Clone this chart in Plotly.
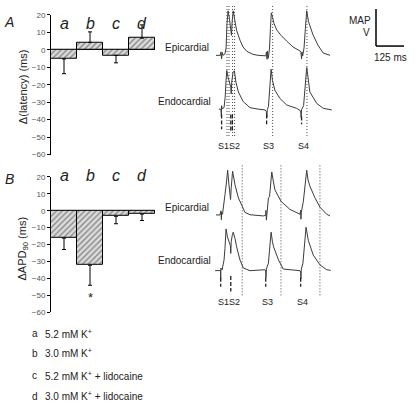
import plotly.graph_objects as go

W, H = 416, 409
FONT = "Liberation Sans, Arial, sans-serif"
MS_PER_PX = 125 / 28.0  # from the 125 ms scale bar

# ---------------- bar data ----------------
conditions = ["a", "b", "c", "d"]
legend_labels = ["5.2 mM K<sup>+</sup>", "3.0 mM K<sup>+</sup>",
                 "5.2 mM K<sup>+</sup> + lidocaine", "3.0 mM K<sup>+</sup> + lidocaine"]
latency_mean = [-5.3, 4.2, -3.2, 6.6]
latency_err = [8.4, 6.0, 4.3, 7.6]
apd_mean = [-16.2, -32.2, -3.3, -2.0]
apd_err = [6.7, 11.8, 4.4, 3.8]
y_ticks = [20, 10, 0, -10, -20, -30, -40, -50, -60]

# ---------------- MAP recordings (time ms, amplitude a.u.) ----------------
A_epi_t = [0, 20, 22, 25, 28, 31, 40, 45, 49, 54, 60, 67, 69, 72, 77, 85, 92, 107, 121, 138, 165, 188,
           223, 225, 228, 230, 233, 236, 239, 243, 247, 253, 259, 271, 290, 316, 344, 375,
           379, 382, 384, 387, 393, 399, 405, 413, 433, 455, 478, 509]
A_epi_v = [0, 0, 3.5, -3.5, 3, 0, 1.5, 7.5, 32.5, 45.5, 37.5, 24.5, 20.5, 34.5, 45.5, 34.5, 25.5, 15.5, 8.5, 4, 1, 0,
           -0.5, 3.5, -4, 4.5, -3, 1.5, 7.5, 27.5, 43.5, 38.5, 32.5, 26, 20.5, 14.5, 8.5, 4.5,
           3, -3.5, 3.5, -0.5, 7.5, 27.5, 45.5, 34.5, 21, 10.5, 2.5, 0]

A_endo_t = [13, 22, 24, 25, 27, 36, 41, 45, 48, 54, 60, 66, 68, 70, 76, 82, 89, 100, 122, 152, 188,
            219, 225, 227, 229, 234, 241, 246, 252, 263, 286, 316, 360,
            378, 380, 382, 391, 397, 405, 411, 419, 450, 479, 517]
A_endo_v = [-0.5, -0.5, -8, 3, 0, 1, 12, 29, 39, 32, 26, 22, 15, 27, 37, 38.7, 27, 17, 7, 1, -0.5,
            -1.3, -3, -9, -1, 2, 24, 40.3, 29, 18.7, 10.3, 3.7, 0.3,
            -2.3, -9, -1, 3, 22, 42, 32, 17, 5.3, 0.3, -1.3]

B_epi_t = [0, 18, 22, 24, 25, 29, 36, 40, 47, 52, 58, 65, 68, 74, 85, 100, 117, 129, 152, 211,
           222, 223, 225, 227, 234, 239, 244, 249, 255, 263, 290, 330, 375,
           378, 379, 381, 390, 397, 405, 411, 420, 442, 464, 494, 509]
B_epi_v = [0, 0, 4.2, -4.8, 2.7, 0.7, 10.7, 20.7, 33.7, 45.7, 30.7, 15.7, 27.7, 44.7, 30.7, 17.4, 9, 2.7, 0.2, -1,
           -0.3, 4.7, -5.3, 1.7, 17.4, 18.7, 30.7, 44, 35.7, 25.7, 14, 5.7, 0.7,
           4.7, -4.3, 2.7, 14, 30.7, 45.7, 35.7, 29, 17.4, 8, 0.7, -1]

B_endo_t = [-4, 13, 20, 21, 22, 27, 36, 40, 45, 51, 58, 64, 66, 68, 73, 77, 85, 92, 107, 122, 152,
            219, 222, 223, 225, 234, 240, 246, 252, 257, 279, 300, 375,
            378, 379, 381, 388, 395, 402, 412, 434, 464, 494, 512]
B_endo_v = [0, 0, 0.2, -8.3, 2.7, 0.7, 11, 22.7, 42.7, 34.7, 28.7, 25.7, 17.7, 29.7, 36.7, 39.4, 32.7, 24.4, 11, 2.7, 0,
            1, -0.3, -7.3, 1.7, 7.7, 22.7, 39.4, 29.7, 24.4, 11, 1.7, 0,
            -1.3, -8.3, 1.7, 7.7, 22.7, 44.4, 31, 16, 6, 1, 0.4]

# stimulus / measurement times (ms)
A_stim_t = [25, 66, 73, 226, 382]
B_stim_t = [21, 66, 222, 378]
A_dotted_t = [49, 58, 74, 83, 253, 406]
B_dotted_t = [117, 290, 464]
stim_names = ["S1S2", "S3", "S4"]
A_stim_name_t = [56, 234, 391]
B_stim_name_t = [58, 230, 386]


def py(p):
    return 1 - p / H


def px(p):
    return p / W


fig = go.Figure()

# ---------------- bars ----------------
pattern = dict(shape="/", fgcolor="#333333", bgcolor="#dcdcdc", size=4, solidity=0.35)
for means, errs, xa, ya in [(latency_mean, latency_err, "x", "y"), (apd_mean, apd_err, "x2", "y2")]:
    up = [e if m > 0 else 0 for m, e in zip(means, errs)]
    dn = [e if m < 0 else 0 for m, e in zip(means, errs)]
    fig.add_trace(go.Bar(
        x=list(range(len(conditions))), y=means, xaxis=xa, yaxis=ya, width=1.0,
        marker=dict(color="#dcdcdc", line=dict(color="black", width=1), pattern=pattern),
        error_y=dict(type="data", symmetric=False, array=up, arrayminus=dn,
                     color="black", thickness=1, width=2),
        showlegend=False, hoverinfo="skip"))

axis_common_y = dict(range=[-60, 20], tickvals=y_ticks, ticks="outside", ticklen=3, tickwidth=1,
                     tickcolor="black", showline=True, linecolor="black", linewidth=1,
                     showgrid=False, zeroline=True, zerolinecolor="black", zerolinewidth=1,
                     tickfont=dict(size=8, color="#555555", family=FONT), fixedrange=True)
axis_common_x = dict(range=[-0.5, 3.5], visible=False, fixedrange=True)

fig.update_layout(
    xaxis=dict(domain=[px(51), px(155)], anchor="y", **axis_common_x),
    yaxis=dict(domain=[py(154), py(11)], anchor="x", **axis_common_y),
    xaxis2=dict(domain=[px(51), px(155)], anchor="y2", **axis_common_x),
    yaxis2=dict(domain=[py(315.3), py(176.7)], anchor="x2", **axis_common_y),
    xaxis3=dict(domain=[0, 1], anchor="y3", range=[-216 * MS_PER_PX, 200 * MS_PER_PX], visible=False,
                fixedrange=True),
    yaxis3=dict(domain=[0, 1], anchor="x3", range=[-H, 0], visible=False, fixedrange=True),
)

# ---------------- recordings ----------------
baselines = {"A_epi": 52.5, "A_endo": 107, "B_epi": 215.7, "B_endo": 272.7}
for key, t, v in [("A_epi", A_epi_t, A_epi_v), ("A_endo", A_endo_t, A_endo_v),
                  ("B_epi", B_epi_t, B_epi_v), ("B_endo", B_endo_t, B_endo_v)]:
    fig.add_trace(go.Scatter(x=t, y=[a - baselines[key] for a in v], xaxis="x3", yaxis="y3",
                             mode="lines", line=dict(color="#3c3c3c", width=1),
                             showlegend=False, hoverinfo="skip"))

shapes = []
DOT = "1px,2px"
for t in A_dotted_t:
    shapes.append(dict(type="line", xref="x3", yref="y3", x0=t, x1=t, y0=-2, y1=-137,
                       line=dict(color="#444444", width=1, dash=DOT)))
for t in B_dotted_t:
    shapes.append(dict(type="line", xref="x3", yref="y3", x0=t, x1=t, y0=-165, y1=-299,
                       line=dict(color="#444444", width=1, dash=DOT)))
A_stim_ranges = [(113, 128), (113, 130), (113, 130), (113, 123), (115, 123)]
for t, (a, b) in zip(A_stim_t, A_stim_ranges):
    shapes.append(dict(type="line", xref="x3", yref="y3", x0=t, x1=t, y0=-a, y1=-b,
                       line=dict(color="#222222", width=1.3, dash="4px,2px")))
B_stim_ranges = [(280, 289), (278, 294), (280, 289), (280, 289)]
for t, (a, b) in zip(B_stim_t, B_stim_ranges):
    shapes.append(dict(type="line", xref="x3", yref="y3", x0=t, x1=t, y0=-a, y1=-b,
                       line=dict(color="#222222", width=1.3, dash="4px,2px")))

# scale bar: 125 ms horizontally
sb_t0 = (376 - 216) * MS_PER_PX
shapes.append(dict(type="line", xref="x3", yref="y3", x0=sb_t0, x1=sb_t0, y0=-5, y1=-43,
                   line=dict(color="black", width=1.5)))
shapes.append(dict(type="line", xref="x3", yref="y3", x0=sb_t0, x1=sb_t0 + 125, y0=-43, y1=-43,
                   line=dict(color="black", width=1.5)))
fig.update_layout(shapes=shapes)

# ---------------- annotations ----------------
ann = []


def text(x, y, s, size=10, xanchor="center", angle=0, color="#222222"):
    ann.append(dict(x=x, y=y, xref="paper", yref="paper", text=s, showarrow=False,
                    xanchor=xanchor, yanchor="middle", textangle=angle,
                    font=dict(size=size, family=FONT, color=color)))


text(px(9), py(18), "<i>A</i>", size=14)
text(px(9), py(179), "<i>B</i>", size=14)
text(px(23), py(85), "Δ(latency) (ms)", size=11, angle=-90)
text(px(23), py(250), "ΔAPD<sub>90</sub> (ms)", size=11, angle=-90)

for i, c in enumerate(conditions):
    ann.append(dict(x=i, y=py(9), xref="x", yref="paper", text="<i>" + c + "</i>", showarrow=False,
                    font=dict(size=16, family=FONT, color="#222222")))
    ann.append(dict(x=i, y=py(175), xref="x", yref="paper", text="<i>" + c + "</i>", showarrow=False,
                    font=dict(size=16, family=FONT, color="#222222")))
ann.append(dict(x=1, y=-51, xref="x2", yref="y2", text="*", showarrow=False,
                font=dict(size=13, family=FONT, color="#222222")))

text(px(211), py(44), "Epicardial", size=10, xanchor="right")
text(px(213), py(100), "Endocardial", size=10, xanchor="right")
text(px(211), py(208), "Epicardial", size=10, xanchor="right")
text(px(213), py(262), "Endocardial", size=10, xanchor="right")

for name, t in zip(stim_names, A_stim_name_t):
    ann.append(dict(x=t, y=-145, xref="x3", yref="y3", text=name, showarrow=False,
                    font=dict(size=9, family=FONT, color="#222222")))
for name, t in zip(stim_names, B_stim_name_t):
    ann.append(dict(x=t, y=-304.5, xref="x3", yref="y3", text=name, showarrow=False,
                    font=dict(size=9, family=FONT, color="#222222")))

text(px(373), py(17), "MAP", size=10, xanchor="right")
text(px(366), py(29), "V", size=10)
text(px(390), py(55), "125 ms", size=10)

legend_y = [337, 357, 380, 401]
for c, lab, yy in zip(conditions, legend_labels, legend_y):
    text(px(30), py(yy), c, size=10, xanchor="left")
    text(px(43), py(yy), lab, size=10, xanchor="left")

fig.update_layout(annotations=ann, width=W, height=H, margin=dict(l=0, r=0, t=0, b=0),
                  paper_bgcolor="white", plot_bgcolor="rgba(0,0,0,0)", bargap=0,
                  font=dict(family=FONT))

fig.write_html("out.html", config={"displayModeBar": False},
               post_script="document.body.style.margin='0';document.body.style.padding='0';")
